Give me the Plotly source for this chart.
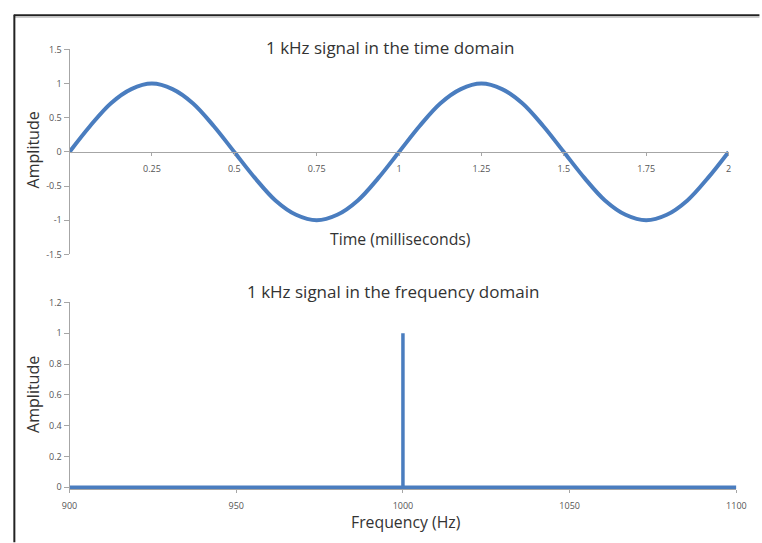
import plotly.graph_objects as go

W, H = 762, 543

# ---- data ----
time_ms = [i * 0.0625 for i in range(33)]
amp_time = [0, 0.38, 0.71, 0.92, 1, 0.92, 0.71, 0.38,
            0, -0.38, -0.71, -0.92, -1, -0.92, -0.71, -0.38,
            0, 0.38, 0.71, 0.92, 1, 0.92, 0.71, 0.38,
            0, -0.38, -0.71, -0.92, -1, -0.92, -0.71, -0.38, 0]
freq_hz = [900, 1000, 1000, 1000, 1100]
amp_freq = [0, 0, 1, 0, 0]

time_ticks = [0.25, 0.5, 0.75, 1, 1.25, 1.5, 1.75, 2]
time_ticktext = ["0.25", "0.5", "0.75", "1", "1.25", "1.5", "1.75", "2"]
time_yticks = [-1.5, -1, -0.5, 0, 0.5, 1, 1.5]
freq_ticks = [900, 950, 1000, 1050, 1100]
freq_yticks = [0, 0.2, 0.4, 0.6, 0.8, 1, 1.2]

BLUE = "#4a7dbf"
AXC = "#a6a6a6"
TXT = "#333333"
TICKC = "#555555"
FONT = "Open Sans"


def px(x):
    return x / W


def py(y):
    return 1 - y / H


fig = go.Figure()
fig.add_trace(go.Scatter(x=time_ms, y=amp_time, mode="lines",
                         line=dict(color=BLUE, width=4, shape="spline", smoothing=1),
                         xaxis="x", yaxis="y", showlegend=False, hoverinfo="skip"))
fig.add_trace(go.Scatter(x=freq_hz, y=amp_freq, mode="lines",
                         line=dict(color=BLUE, width=3.5),
                         xaxis="x2", yaxis="y2", showlegend=False, hoverinfo="skip"))

tickfont = dict(family=FONT, size=9, color=TICKC)

fig.update_layout(
    width=W, height=H,
    margin=dict(l=0, r=0, t=0, b=0),
    paper_bgcolor="white", plot_bgcolor="white",
    font=dict(family=FONT, color=TXT),
    xaxis=dict(domain=[px(63), px(738)], range=[0, 2], anchor="free",
               position=(py(253.5) + py(43.5)) / 2,
               showline=True, linecolor=AXC, linewidth=1, showgrid=False, zeroline=False,
               tickvals=time_ticks, ticktext=time_ticktext, ticks="outside", ticklen=3,
               tickcolor=AXC, tickfont=tickfont, ticklabelstandoff=5),
    yaxis=dict(domain=[py(253.5), py(43.5)], range=[-1.5, 1.5], anchor="x",
               showline=True, linecolor=AXC, linewidth=1, showgrid=False, zeroline=False,
               tickvals=time_yticks, ticktext=["-1.5", "-1", "-0.5", "0", "0.5", "1", "1.5"],
               ticks="outside", ticklen=5, tickcolor=AXC, tickfont=tickfont),
    xaxis2=dict(domain=[px(63), px(746)], range=[900, 1100], anchor="y2",
                showline=True, linecolor=AXC, linewidth=1, showgrid=False, zeroline=False,
                tickvals=freq_ticks, ticks="outside", ticklen=3, tickcolor=AXC,
                tickfont=tickfont, ticklabelstandoff=5),
    yaxis2=dict(domain=[py(494), py(302.7)], range=[-0.012, 1.2], anchor="x2",
                showline=True, linecolor=AXC, linewidth=1, showgrid=False, zeroline=False,
                tickvals=freq_yticks, ticktext=["0", "0.2", "0.4", "0.6", "0.8", "1", "1.2"],
                ticks="outside", ticklen=5, tickcolor=AXC, tickfont=tickfont),
)

ann = [
    dict(text="1 kHz signal in the time domain", x=px(391), y=py(41.5), size=17),
    dict(text="Time (milliseconds)", x=px(401.5), y=py(238), size=15.8),
    dict(text="1 kHz signal in the frequency domain", x=px(394), y=py(291.5), size=17),
    dict(text="Frequency (Hz)", x=px(407.5), y=py(527.5), size=15.8),
]
for a in ann:
    fig.add_annotation(text=a["text"], x=a["x"], y=a["y"], xref="paper", yref="paper",
                       xanchor="center", yanchor="middle", showarrow=False,
                       font=dict(family=FONT, size=a["size"], color=TXT))
for yc in (146.5, 397):
    fig.add_annotation(text="Amplitude", x=px(26), y=py(yc), xref="paper", yref="paper",
                       xanchor="center", yanchor="middle", showarrow=False, textangle=-90,
                       font=dict(family=FONT, size=16, color=TXT))

# frame border (top and left)
fig.add_shape(type="line", xref="paper", yref="paper", x0=px(6), x1=1.01, y0=py(8.5), y1=py(8.5),
              line=dict(color="#222222", width=2))
fig.add_shape(type="line", xref="paper", yref="paper", x0=px(7), x1=1.01, y0=py(10.5), y1=py(10.5),
              line=dict(color="#bbbbbb", width=1))
fig.add_shape(type="line", xref="paper", yref="paper", x0=px(6.5), x1=px(6.5), y0=py(8), y1=-0.01,
              line=dict(color="#222222", width=2))

fig.write_html("out.html", config={"displayModeBar": False},
               post_script="document.body.style.margin='0';document.body.style.overflow='hidden';")
